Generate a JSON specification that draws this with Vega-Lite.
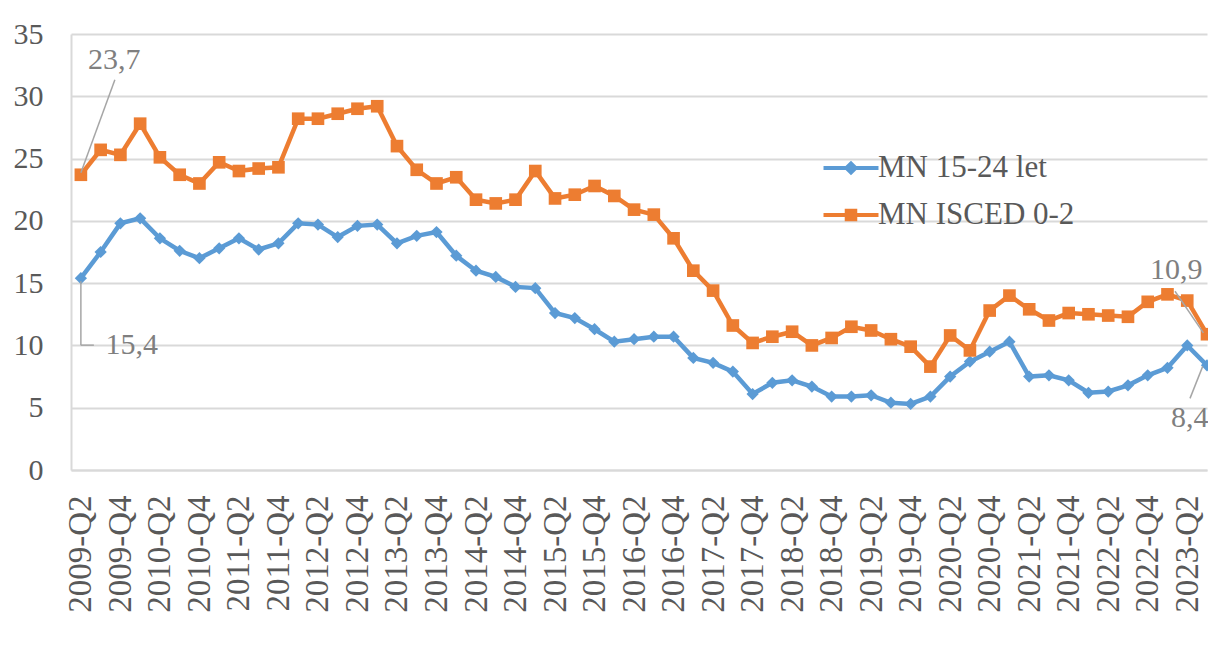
{
  "$schema": "https://vega.github.io/schema/vega-lite/v6.json",
  "width": 1136,
  "height": 436,
  "autosize": {"type": "none"},
  "padding": {"left": 71, "top": 34, "right": 1, "bottom": 187},
  "background": "white",
  "config": {
    "locale": {"number": {"decimal": ",", "thousands": " ", "grouping": [3], "currency": ["", " Kč"]}},
    "view": {"stroke": null},
    "font": "Liberation Serif"
  },
  "data": {
    "values": [
      {"q": "2009-Q2", "MN 15-24 let": 15.4, "MN ISCED 0-2": 23.7},
      {"q": "2009-Q3", "MN 15-24 let": 17.5, "MN ISCED 0-2": 25.7},
      {"q": "2009-Q4", "MN 15-24 let": 19.8, "MN ISCED 0-2": 25.3},
      {"q": "2010-Q1", "MN 15-24 let": 20.2, "MN ISCED 0-2": 27.8},
      {"q": "2010-Q2", "MN 15-24 let": 18.6, "MN ISCED 0-2": 25.1},
      {"q": "2010-Q3", "MN 15-24 let": 17.6, "MN ISCED 0-2": 23.7},
      {"q": "2010-Q4", "MN 15-24 let": 17.0, "MN ISCED 0-2": 23.0},
      {"q": "2011-Q1", "MN 15-24 let": 17.8, "MN ISCED 0-2": 24.7},
      {"q": "2011-Q2", "MN 15-24 let": 18.6, "MN ISCED 0-2": 24.0},
      {"q": "2011-Q3", "MN 15-24 let": 17.7, "MN ISCED 0-2": 24.2},
      {"q": "2011-Q4", "MN 15-24 let": 18.2, "MN ISCED 0-2": 24.3},
      {"q": "2012-Q1", "MN 15-24 let": 19.8, "MN ISCED 0-2": 28.2},
      {"q": "2012-Q2", "MN 15-24 let": 19.7, "MN ISCED 0-2": 28.2},
      {"q": "2012-Q3", "MN 15-24 let": 18.7, "MN ISCED 0-2": 28.6},
      {"q": "2012-Q4", "MN 15-24 let": 19.6, "MN ISCED 0-2": 29.0},
      {"q": "2013-Q1", "MN 15-24 let": 19.7, "MN ISCED 0-2": 29.2},
      {"q": "2013-Q2", "MN 15-24 let": 18.2, "MN ISCED 0-2": 26.0},
      {"q": "2013-Q3", "MN 15-24 let": 18.8, "MN ISCED 0-2": 24.1},
      {"q": "2013-Q4", "MN 15-24 let": 19.1, "MN ISCED 0-2": 23.0},
      {"q": "2014-Q1", "MN 15-24 let": 17.2, "MN ISCED 0-2": 23.5},
      {"q": "2014-Q2", "MN 15-24 let": 16.0, "MN ISCED 0-2": 21.7},
      {"q": "2014-Q3", "MN 15-24 let": 15.5, "MN ISCED 0-2": 21.4},
      {"q": "2014-Q4", "MN 15-24 let": 14.7, "MN ISCED 0-2": 21.7},
      {"q": "2015-Q1", "MN 15-24 let": 14.6, "MN ISCED 0-2": 24.0},
      {"q": "2015-Q2", "MN 15-24 let": 12.6, "MN ISCED 0-2": 21.8},
      {"q": "2015-Q3", "MN 15-24 let": 12.2, "MN ISCED 0-2": 22.1},
      {"q": "2015-Q4", "MN 15-24 let": 11.3, "MN ISCED 0-2": 22.8},
      {"q": "2016-Q1", "MN 15-24 let": 10.3, "MN ISCED 0-2": 22.0},
      {"q": "2016-Q2", "MN 15-24 let": 10.5, "MN ISCED 0-2": 20.9},
      {"q": "2016-Q3", "MN 15-24 let": 10.7, "MN ISCED 0-2": 20.5},
      {"q": "2016-Q4", "MN 15-24 let": 10.7, "MN ISCED 0-2": 18.6},
      {"q": "2017-Q1", "MN 15-24 let": 9.0, "MN ISCED 0-2": 16.0},
      {"q": "2017-Q2", "MN 15-24 let": 8.6, "MN ISCED 0-2": 14.4},
      {"q": "2017-Q3", "MN 15-24 let": 7.9, "MN ISCED 0-2": 11.6},
      {"q": "2017-Q4", "MN 15-24 let": 6.1, "MN ISCED 0-2": 10.2},
      {"q": "2018-Q1", "MN 15-24 let": 7.0, "MN ISCED 0-2": 10.7},
      {"q": "2018-Q2", "MN 15-24 let": 7.2, "MN ISCED 0-2": 11.1},
      {"q": "2018-Q3", "MN 15-24 let": 6.7, "MN ISCED 0-2": 10.0},
      {"q": "2018-Q4", "MN 15-24 let": 5.9, "MN ISCED 0-2": 10.6},
      {"q": "2019-Q1", "MN 15-24 let": 5.9, "MN ISCED 0-2": 11.5},
      {"q": "2019-Q2", "MN 15-24 let": 6.0, "MN ISCED 0-2": 11.2},
      {"q": "2019-Q3", "MN 15-24 let": 5.4, "MN ISCED 0-2": 10.5},
      {"q": "2019-Q4", "MN 15-24 let": 5.3, "MN ISCED 0-2": 9.9},
      {"q": "2020-Q1", "MN 15-24 let": 5.9, "MN ISCED 0-2": 8.3},
      {"q": "2020-Q2", "MN 15-24 let": 7.5, "MN ISCED 0-2": 10.8},
      {"q": "2020-Q3", "MN 15-24 let": 8.7, "MN ISCED 0-2": 9.6},
      {"q": "2020-Q4", "MN 15-24 let": 9.5, "MN ISCED 0-2": 12.8},
      {"q": "2021-Q1", "MN 15-24 let": 10.3, "MN ISCED 0-2": 14.0},
      {"q": "2021-Q2", "MN 15-24 let": 7.5, "MN ISCED 0-2": 12.9},
      {"q": "2021-Q3", "MN 15-24 let": 7.6, "MN ISCED 0-2": 12.0},
      {"q": "2021-Q4", "MN 15-24 let": 7.2, "MN ISCED 0-2": 12.6},
      {"q": "2022-Q1", "MN 15-24 let": 6.2, "MN ISCED 0-2": 12.5},
      {"q": "2022-Q2", "MN 15-24 let": 6.3, "MN ISCED 0-2": 12.4},
      {"q": "2022-Q3", "MN 15-24 let": 6.8, "MN ISCED 0-2": 12.3},
      {"q": "2022-Q4", "MN 15-24 let": 7.6, "MN ISCED 0-2": 13.5},
      {"q": "2023-Q1", "MN 15-24 let": 8.2, "MN ISCED 0-2": 14.1},
      {"q": "2023-Q2", "MN 15-24 let": 10.0, "MN ISCED 0-2": 13.6},
      {"q": "2023-Q3", "MN 15-24 let": 8.4, "MN ISCED 0-2": 10.9}
    ]
  },
  "transform": [{"fold": ["MN 15-24 let", "MN ISCED 0-2"], "as": ["s", "v"]}],
  "encoding": {
    "x": {
      "field": "q", "type": "ordinal", "sort": null,
      "scale": {"type": "point", "padding": 0.25, "align": 1},
      "axis": {
        "title": null, "ticks": false, "grid": false,
        "domainColor": "#d9d9d9", "domainWidth": 2,
        "labelAngle": -90, "labelFont": "Liberation Serif", "labelFontSize": 33,
        "labelColor": "#595959", "labelPadding": 25, "labelLimit": 300,
        "values": ["2009-Q2","2009-Q4","2010-Q2","2010-Q4","2011-Q2","2011-Q4","2012-Q2","2012-Q4","2013-Q2","2013-Q4","2014-Q2","2014-Q4","2015-Q2","2015-Q4","2016-Q2","2016-Q4","2017-Q2","2017-Q4","2018-Q2","2018-Q4","2019-Q2","2019-Q4","2020-Q2","2020-Q4","2021-Q2","2021-Q4","2022-Q2","2022-Q4","2023-Q2"]
      }
    },
    "y": {
      "field": "v", "type": "quantitative",
      "scale": {"domain": [0, 35], "nice": false},
      "axis": {
        "title": null, "ticks": false, "values": [0, 5, 10, 15, 20, 25, 30, 35],
        "domainColor": "#d9d9d9", "domainWidth": 2,
        "gridColor": "#d9d9d9", "gridWidth": 2,
        "labelFont": "Liberation Serif", "labelFontSize": 30,
        "labelColor": "#595959", "labelPadding": 28
      }
    }
  },
  "layer": [
    {
      "mark": {"type": "line", "strokeWidth": 4.5},
      "encoding": {
        "color": {
          "field": "s", "type": "nominal",
          "scale": {"domain": ["MN 15-24 let", "MN ISCED 0-2"], "range": ["#5B9BD5", "#ED7D31"]},
          "legend": {
            "orient": "none", "legendX": 764, "legendY": 118, "title": null,
            "labelFont": "Liberation Serif", "labelFontSize": 31, "labelColor": "#595959",
            "labelOffset": 11, "labelLimit": 400, "symbolSize": 756, "symbolStrokeWidth": 4,
            "rowPadding": 16, "padding": 0,
            "encode": {
              "symbols": {
                "update": {
                  "shape": {"signal": "datum.value == 'MN 15-24 let' ? 'M-2,0H2M-0.33,0L0,-0.33L0.33,0L0,0.33Z' : 'M-2,0H2M-0.31,-0.31H0.31V0.31H-0.31Z'"},
                  "fill": {"signal": "datum.value == 'MN 15-24 let' ? '#5B9BD5' : '#ED7D31'"},
                  "stroke": {"signal": "datum.value == 'MN 15-24 let' ? '#5B9BD5' : '#ED7D31'"},
                  "strokeWidth": {"value": 4}
                }
              }
            }
          }
        }
      }
    },
    {
      "transform": [{"filter": "datum.s == 'MN 15-24 let'"}],
      "mark": {"type": "point", "shape": "diamond", "filled": true, "size": 150, "color": "#5B9BD5", "opacity": 1}
    },
    {
      "transform": [{"filter": "datum.s == 'MN ISCED 0-2'"}],
      "mark": {"type": "point", "shape": "square", "filled": true, "size": 160, "color": "#ED7D31", "opacity": 1}
    },
    {
      "transform": [{"filter": "datum.s == 'MN ISCED 0-2' && datum.q == '2009-Q2'"}],
      "mark": {"type": "rule", "color": "#a6a6a6", "strokeWidth": 1.5, "yOffset": -2, "x2Offset": 34, "y2Offset": -95},
      "encoding": {"x2": {"field": "q"}, "y2": {"field": "v"}}
    },
    {
      "transform": [{"filter": "datum.s == 'MN 15-24 let' && datum.q == '2009-Q2'"}],
      "mark": {"type": "rule", "color": "#a6a6a6", "strokeWidth": 1.5, "yOffset": 3, "y2Offset": 67},
      "encoding": {"x2": {"field": "q"}, "y2": {"field": "v"}}
    },
    {
      "transform": [{"filter": "datum.s == 'MN 15-24 let' && datum.q == '2009-Q2'"}],
      "mark": {"type": "rule", "color": "#a6a6a6", "strokeWidth": 1.5, "yOffset": 67, "x2Offset": 13, "y2Offset": 67},
      "encoding": {"x2": {"field": "q"}, "y2": {"field": "v"}}
    },
    {
      "transform": [{"filter": "datum.s == 'MN ISCED 0-2' && datum.q == '2023-Q3'"}],
      "mark": {"type": "rule", "color": "#a6a6a6", "strokeWidth": 1.5, "xOffset": -32, "yOffset": -43, "x2Offset": -3.6, "y2Offset": -1.4},
      "encoding": {"x2": {"field": "q"}, "y2": {"field": "v"}}
    },
    {
      "transform": [{"filter": "datum.s == 'MN 15-24 let' && datum.q == '2023-Q3'"}],
      "mark": {"type": "rule", "color": "#a6a6a6", "strokeWidth": 1.5, "xOffset": -4.3, "yOffset": 1, "x2Offset": -17, "y2Offset": 33},
      "encoding": {"x2": {"field": "q"}, "y2": {"field": "v"}}
    },
    {
      "transform": [{"filter": "datum.s == 'MN ISCED 0-2' && datum.q == '2009-Q2'"}],
      "mark": {"type": "text", "align": "left", "baseline": "alphabetic", "dx": 7, "dy": -105.5, "fontSize": 30, "font": "Liberation Serif", "color": "#7f7f7f"},
      "encoding": {"text": {"field": "v", "type": "quantitative", "format": ".1f"}}
    },
    {
      "transform": [{"filter": "datum.s == 'MN 15-24 let' && datum.q == '2009-Q2'"}],
      "mark": {"type": "text", "align": "left", "baseline": "alphabetic", "dx": 24.7, "dy": 76.3, "fontSize": 30, "font": "Liberation Serif", "color": "#7f7f7f"},
      "encoding": {"text": {"field": "v", "type": "quantitative", "format": ".1f"}}
    },
    {
      "transform": [{"filter": "datum.s == 'MN ISCED 0-2' && datum.q == '2023-Q3'"}],
      "mark": {"type": "text", "align": "left", "baseline": "alphabetic", "dx": -57, "dy": -55.7, "fontSize": 30, "font": "Liberation Serif", "color": "#7f7f7f"},
      "encoding": {"text": {"field": "v", "type": "quantitative", "format": ".1f"}}
    },
    {
      "transform": [{"filter": "datum.s == 'MN 15-24 let' && datum.q == '2023-Q3'"}],
      "mark": {"type": "text", "align": "left", "baseline": "alphabetic", "dx": -36, "dy": 61.5, "fontSize": 30, "font": "Liberation Serif", "color": "#7f7f7f"},
      "encoding": {"text": {"field": "v", "type": "quantitative", "format": ".1f"}}
    }
  ]
}
